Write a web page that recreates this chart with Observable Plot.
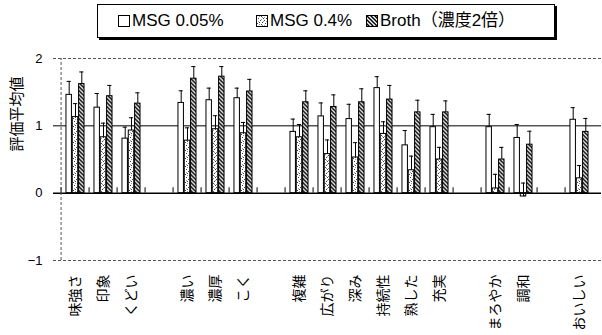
<!DOCTYPE html>
<html>
<head>
<meta charset="utf-8">
<script src="https://cdn.jsdelivr.net/npm/d3@7"></script>
<script src="https://cdn.jsdelivr.net/npm/@observablehq/plot@0.6"></script>
<style>
  html, body { margin: 0; padding: 0; background: #fff; }
  body { width: 602px; height: 335px; overflow: hidden; font-family: "Liberation Sans", "Noto Sans CJK JP", sans-serif; }
  #legendWrap { height: 46px; position: relative; }
  #legend { position: absolute; left: 97px; top: 4px; width: 456px; height: 32px; border: 1px solid #000; box-shadow: 2px 2px 0 #000; background: #fff; }
  .item { position: absolute; top: 6px; font-size: 17px; line-height: 20px; color: #000; white-space: nowrap; display: flex; align-items: center; }
  .item svg { margin-right: 2px; }
</style>
</head>
<body>
<svg width="0" height="0" style="position:absolute">
  <defs>
    <pattern id="dots" width="8" height="8" patternUnits="userSpaceOnUse">
      <rect width="8" height="8" fill="#fff"/>
      <g fill="#444">
        <rect x="1" y="0" width="1" height="1"/><rect x="5" y="1" width="1" height="1"/>
        <rect x="2" y="3" width="1" height="1"/><rect x="7" y="3" width="1" height="1"/>
        <rect x="0" y="5" width="1" height="1"/><rect x="4" y="5" width="1" height="1"/>
        <rect x="6" y="7" width="1" height="1"/><rect x="3" y="7" width="1" height="1"/>
      </g>
      <g fill="#999">
        <rect x="3" y="1" width="1" height="1"/><rect x="6" y="2" width="1" height="1"/>
        <rect x="0" y="2" width="1" height="1"/><rect x="5" y="4" width="1" height="1"/>
        <rect x="2" y="6" width="1" height="1"/><rect x="7" y="6" width="1" height="1"/>
      </g>
    </pattern>
    <pattern id="hatch" width="4" height="4" patternUnits="userSpaceOnUse">
      <rect width="4" height="4" fill="#fff"/>
      <path d="M-1,-1L5,5M-1,3L1,5M3,-1L5,1" stroke="#000" stroke-width="1.5"/>
    </pattern>
  </defs>
</svg>
<div id="legendWrap"><div id="legend"></div></div>
<div id="chart"></div>
<script>
// ---- data ----
const categories = ["味強さ","印象","くどい","濃い","濃厚","こく","複雑","広がり","深み","持続性","熟した","充実","まろやか","調和","おいしい"];
const gapAfter = ["くどい","こく","充実","調和"];
const seriesNames = ["MSG 0.05%", "MSG 0.4%", "Broth（濃度2倍）"];
const msg005    = [1.46,1.27,0.81, 1.34,1.38,1.41, 0.91,1.14,1.10,1.56,0.71,0.98, 0.98,0.82, 1.09];
const msg005Err = [1.66,1.48,0.98, 1.52,1.56,1.56, 1.10,1.34,1.32,1.73,0.93,1.17, 1.17,1.02, 1.27];
const msg04     = [1.13,0.83,0.93, 0.78,0.95,0.89, 0.83,0.58,0.53,0.88,0.34,0.50, 0.07,-0.05, 0.22];
const msg04Err  = [1.33,1.04,1.12, 0.97,1.15,1.05, 1.02,0.79,0.75,1.06,0.55,0.68, 0.28,0.15, 0.41];
const broth     = [1.62,1.44,1.33, 1.70,1.73,1.51, 1.35,1.28,1.35,1.39,1.20,1.20, 0.50,0.72, 0.91];
const brothErr  = [1.80,1.60,1.49, 1.88,1.88,1.69, 1.52,1.46,1.55,1.60,1.38,1.37, 0.68,0.92, 1.11];
const yTicks = [-1, 0, 1, 2];
const yLabel = "評価平均値";

// ---- build ----
const fills = ["#fff", "url(#dots)", "url(#hatch)"];
const valuesBySeries = [msg005, msg04, broth];
const errBySeries = [msg005Err, msg04Err, brothErr];

const domain = [];
categories.forEach((c, i) => { domain.push(c); if (gapAfter.includes(c)) domain.push("gap" + i); });

const W = 602, H = 289, mL = 53, mR = 1, mT = 12, mB = 75;
const band = (W - mL - mR) / domain.length;
const barW = 6.3;
const barInset = (band - barW) / 2;
const capW = 5;
const capInset = (band - capW) / 2;

const rowsBySeries = valuesBySeries.map((vals, k) =>
  categories.map((c, i) => ({cat: c, value: vals[i], err: errBySeries[k][i]})));

const marks = [
  Plot.ruleY([1], {stroke: "#000", strokeWidth: 1})
];
rowsBySeries.forEach((rows, k) => {
  const dx = (k - 1) * barW;
  marks.push(Plot.barY(rows, {x: "cat", y: "value", dx, insetLeft: barInset, insetRight: barInset, fill: fills[k], stroke: "#000", strokeWidth: 1}));
});
rowsBySeries.forEach((rows, k) => {
  const dx = (k - 1) * barW;
  marks.push(Plot.ruleX(rows, {x: "cat", y1: "value", y2: "err", dx, stroke: "#000", strokeWidth: 1}));
  marks.push(Plot.tickY(rows, {x: "cat", y: "err", dx, insetLeft: capInset, insetRight: capInset, stroke: "#000", strokeWidth: 1}));
});
marks.push(
  Plot.ruleY([0], {stroke: "#000", strokeWidth: 1.5}),
  Plot.ruleX(domain, {x: d => d, y1: 0, y2: 0.08, dx: -band / 2, stroke: "#000", strokeWidth: 1}),
  Plot.ruleY([2, -1], {stroke: "#555", strokeWidth: 1, strokeDasharray: "3,2"}),
  Plot.ruleX([domain[0]], {x: d => d, y1: -1, y2: 2, dx: -band / 2, stroke: "#555", strokeWidth: 1, strokeDasharray: "3,2"}),
  Plot.axisY({ticks: yTicks, tickSize: 0, tickPadding: 11, fontSize: 13, label: null, tickFormat: d => d < 0 ? "−" + Math.abs(d) : String(d)}),
  Plot.axisX({ticks: categories, tickSize: 0, tickRotate: -90, tickPadding: 14, fontSize: 14, label: null}),
  Plot.text([yLabel], {text: d => d, frameAnchor: "left", dx: -36, dy: -8, rotate: -90, fontSize: 15, fill: "#000"})
);

const chart = Plot.plot({
  width: W, height: H,
  marginLeft: mL, marginRight: mR, marginTop: mT, marginBottom: mB,
  style: {fontFamily: '"Liberation Sans", "Noto Sans CJK JP", sans-serif', color: "#000", background: "#fff"},
  x: {domain, padding: 0, axis: null},
  y: {domain: [-1, 2], axis: null},
  marks
});
document.getElementById("chart").appendChild(chart);

// ---- legend ----
const legend = document.getElementById("legend");
const offsets = [20, 158, 268];
seriesNames.forEach((name, k) => {
  const item = document.createElement("div");
  item.className = "item";
  item.style.left = offsets[k] + "px";
  item.innerHTML = `<svg width="12" height="12"><rect x="0.5" y="0.5" width="11" height="11" fill="${fills[k]}" stroke="#000"/></svg><span>${name}</span>`;
  legend.appendChild(item);
});
</script>
</body>
</html>
